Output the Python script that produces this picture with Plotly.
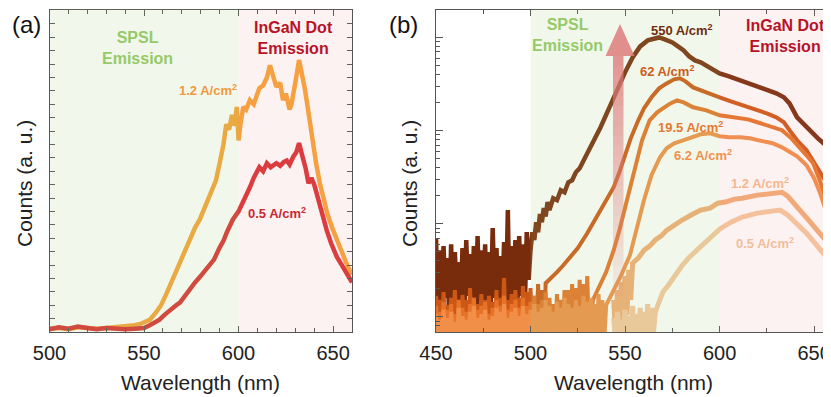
import plotly.graph_objects as go

# ---------------- Panel (a) data: linear counts (arbitrary units) ----------------
wl_a_12 = [500,505,510,515,520,525,530,535,540,545,548,550,553,556,559,562,565,568,571,574,
           577,579.5,582,585,588,590,592,593.5,595,596.5,598,599,600,601,602.5,604,606,608,609.5,611,
           613,615,616.6,618,620,622,623.5,625,627,628,629,630.5,632,633.6,635,636,637.5,639,641,643,
           645,647,650,652,654,656,658,660]
cnt_a_12 = [0.25,0.3,0.2,0.35,0.3,0.25,0.3,0.35,0.4,0.5,0.6,0.7,0.9,1.4,2.0,2.9,3.9,4.8,5.8,6.9,
            7.8,8.4,9.3,10.4,11.3,12.6,14.0,15.5,15.1,16.2,15.4,16.8,14.3,15.5,16.8,16.6,17.3,17.0,17.5,18.2,
            18.4,19.0,19.9,19.2,18.3,18.6,17.3,17.8,16.6,17.0,18.0,19.0,20.3,19.3,18.2,17.3,15.8,14.3,12.6,11.1,
            9.8,8.8,7.6,6.9,6.0,5.4,4.8,4.3]

wl_a_05 = [500,505,510,515,520,525,530,535,540,545,550,553,556,558,561,564,567,569,572,575,
           577,579.5,582,585,587,590,592,594,597,600,602,604,606,608,609.5,611,613,615,617,620,
           622,624,625.5,627,629,630.5,632,633,634,635.5,637,638.5,640,642,644,646.6,649,652,655,657,
           659,660]
cnt_a_05 = [0.2,0.35,0.25,0.4,0.3,0.2,0.3,0.25,0.2,0.25,0.3,0.5,0.7,0.9,1.3,1.7,2.0,2.2,2.8,3.4,
            3.7,4.1,4.5,5.1,5.4,6.3,6.8,7.5,8.4,9.0,9.6,10.1,10.8,11.5,11.9,12.3,12.0,12.6,12.3,12.6,
            12.4,12.7,12.8,12.5,13.1,13.4,14.1,13.4,13.0,12.2,11.1,11.5,11.0,10.0,8.9,7.6,6.6,5.6,4.9,4.4,
            3.9,3.7]

# ---------------- Panel (b) data: log counts ----------------
wl_b_550 = [450,451,452,453,454,455,456,457,458,459,460,461,462,463,464,465,466,467,468,469,
            470,471,472,473,474,475,476,477,478,479,480,481,482,483,484,485,486,487,488,489,
            490,491,492,493,494,495,496,497,498,499,
            500,501,502,503,504,505,506,507,508,509,510,512,514,516,518,520,522,524,526,528,
            530,533,537,541,546,550,554,558,562,565,568,571,575,578,581,584,587,590,593,596,
            600,605,611,615,620,625,630,634,637,641,645,648,652,655,659,660]
cnt_b_550 = [70,13.4,52,11.3,57.5,16,42.8,9.7,60,12.5,49.6,15.2,38.7,10.5,54.7,11.9,67,16.8,47.2,9.3,
             57.5,13.1,73.6,11.3,52,15.2,60,10.2,49.6,13.7,89.7,16,54.7,10.7,45,12.5,63.5,14.5,140,9.7,
             57.5,15.2,67,11.9,73.6,16.8,60,13.1,81.3,25,
             52,81,67,104,81,127,104,147,120,171,140,188,179,229,218,279,293,357,394,481,
             585,750,1080,1650,2700,4220,6110,8010,9290,9750,10000,9520,8840,8010,7260,6250,5670,5400,5010,4650,
             4110,3820,3460,3210,2910,2700,2510,2280,1960,1390,1140,1010,826,731,615,585]

wl_b_62 = [450,451,452,453,454,455,456,457,458,459,460,461,462,463,464,465,466,467,468,469,
           470,471,472,473,474,475,476,477,478,479,480,481,482,483,484,485,486,487,488,489,
           490,491,492,493,494,495,496,497,498,499,500,501,502,503,504,505,506,507,
           508,511,514,517,521,525,530,534,538,541,544,547,550,553,557,560,564,568,572,576,
           579,582,586,590,595,600,606,611,616,620,625,630,634,637,641,646,650,654,657,660]
cnt_b_62 = [16.8,7.2,15.2,5.9,18.5,6.6,13.4,5.6,16,6.9,19.4,7.2,14.5,5.9,17.2,6.6,15.2,5.6,20.4,6.9,
            16,7.2,13.7,5.9,17.6,6.6,15.2,5.6,16.8,6.9,14.5,7.2,19.4,5.9,16,6.6,26.1,5.6,15.2,6.9,
            17.6,7.2,19.4,5.9,16,6.6,21.4,5.6,18.5,6.9,20.4,7.2,16.8,5.9,22.5,6.6,19.4,5.6,
            23,26,30.3,35.2,43.8,54.7,79,109,151,193,247,357,543,826,1290,1730,2280,2840,3210,3550,
            3640,3380,2910,2700,2450,2280,2060,1910,1780,1650,1530,1390,1230,1010,787,615,447,332,266,218]

wl_b_195 = [450,451,452,453,454,455,456,457,458,459,460,461,462,463,464,465,466,467,468,469,
            470,471,472,473,474,475,476,477,478,479,480,481,482,483,484,485,486,487,488,489,
            490,491,492,493,494,495,496,497,498,499,500,501,502,503,504,505,506,507,508,509,
            510,511,512,513,514,515,516,517,518,519,520,521,522,523,524,525,526,527,528,529,
            530,531,
            533,537,540,544,547,551,555,559,563,567,570,574,577.5,581,586,593,600,605,610,615,
            620,627,633,638,642.6,646,649.5,653,656,659,660]
cnt_b_195 = [13.1,6.0,11.3,5.7,14.5,6.2,11.9,5.5,13.7,6.0,10.7,5.7,15.2,6.2,12.5,5.5,11.3,6.0,13.7,5.7,
             16,6.2,11.9,5.5,13.1,6.0,14.5,5.7,10.7,6.2,12.5,5.5,15.2,6.0,13.1,5.7,16.8,6.2,11.9,5.5,
             13.7,6.0,15.2,5.7,12.5,6.2,16,5.5,13.1,6.0,14.5,5.7,16.8,6.2,13.7,5.5,15.2,6.0,18.5,5.7,
             16,6.2,13.7,5.5,17.6,6.0,15.2,5.7,19.4,6.2,19.4,5.5,22.5,6.0,20.4,5.7,25,6.2,22.5,5.5,
             27.4,6.0,
             15.2,22,30.3,52,85,179,394,787,1290,1570,1730,1960,2110,2010,1780,1650,1460,1420,1390,1320,
             1230,1110,1010,826,662,543,447,293,188,124,109]

wl_b_62c = [450,451,452,453,454,455,456,457,458,459,460,461,462,463,464,465,466,467,468,469,
            470,471,472,473,474,475,476,477,478,479,480,481,482,483,484,485,486,487,488,489,
            490,491,492,493,494,495,496,497,498,499,500,501,502,503,504,505,506,507,508,509,
            510,511,512,513,514,515,516,517,518,519,520,521,522,523,524,525,526,527,528,529,
            530,531,532,533,534,535,536,537,538,539,
            540,544,548,552.6,556,560,564,568.5,572,576,580.7,586,590,595,600,605,611,616,620,625,
            628,633,637,641,646,650,653,656,659,660]
cnt_b_62c = [10.7,5.5,9.3,5.2,11.9,5.6,9.7,5.3,11.3,5.5,8.8,5.2,12.5,5.6,10.2,5.3,9.3,5.5,11.3,5.2,
             13.1,5.6,9.7,5.3,10.7,5.5,11.9,5.2,9.3,5.6,10.2,5.3,12.5,5.5,11.3,5.2,13.7,5.6,9.7,5.3,
             11.3,5.5,12.5,5.2,10.2,5.6,13.1,5.3,10.7,5.5,11.9,5.2,13.7,5.6,11.3,5.3,12.5,5.5,15.2,5.2,
             13.1,5.6,11.3,5.3,14.5,5.5,12.5,5.2,16,5.6,13.7,5.3,12.5,5.5,15.2,5.2,13.1,5.6,16.8,5.3,
             14.5,5.5,16,5.2,13.7,5.6,17.6,5.3,15.2,5.5,
             13.4,19.4,28.1,46,89.7,179,332,518,646,731,787,847,912,935,869,847,847,826,787,750,
             731,662,600,530,425,308,218,147,94.2,81.3]

wl_b_12 = [544,545,546,547,548,549,550,551,552,553,
           554,557,560,563,566,569,572,576,580,585,590,595,599,603,608,612,616,620,625,629,
           633,636,640,644,648,652,655,659,660]
cnt_b_12 = [15.2,6.3,19.4,7.2,23.7,8.2,27.4,10.5,32,15.2,
            37.8,42.8,52,57.5,67,73.6,85,96.6,109,124,140,147,166,171,184,188,198,203,208,213,
            218,198,162,130,104,83.4,70.2,56,53.4]

wl_b_05 = [544,545,546,547,548,549,550,551,552,553,554,555,556,557,558,559,560,561,562,563,564,565,
           566,568,570,573,576,580,584,590,595,600,606,612,620,626,632,636,640,646,650,655,659,660]
cnt_b_05 = [9.7,5.6,11.3,5.6,9.3,5.6,11.9,5.6,10.2,5.6,13.1,5.6,10.7,5.6,12.5,5.6,11.3,5.9,13.7,6.1,12.5,6.6,
            11.3,15.2,18.5,22,27.4,35.2,43.8,57.5,70.2,87.5,104,118,130,136,140,124,104,79,63.5,48.4,38.7,36]

W, H = 831, 397
OFF = 8  # page body margin offset of the rendered figure
FONT = "Liberation Sans, Arial, sans-serif"
AX = "#555555"


def px(x, y):
    return (x - OFF) / W, 1 - (y - OFF) / H


def fx(x):
    return (x - OFF) / W


def fy(y):
    return 1 - (y - OFF) / H


fig = go.Figure()

# panel (a) traces
fig.add_trace(go.Scatter(x=wl_a_12, y=cnt_a_12, mode="lines",
                         line=dict(color="rgb(246,163,55)", width=4.5), xaxis="x", yaxis="y"))
fig.add_trace(go.Scatter(x=wl_a_05, y=cnt_a_05, mode="lines",
                         line=dict(color="rgb(217,48,52)", width=4.5), xaxis="x", yaxis="y"))

# panel (b) traces
b_series = [
    (wl_b_550, cnt_b_550, "rgb(120,44,12)", 4.5),
    (wl_b_62, cnt_b_62, "rgb(205,88,22)", 4),
    (wl_b_195, cnt_b_195, "rgb(230,115,40)", 4),
    (wl_b_62c, cnt_b_62c, "rgb(241,143,72)", 4),
    (wl_b_12, cnt_b_12, "rgb(243,172,118)", 5),
    (wl_b_05, cnt_b_05, "rgb(246,200,158)", 5),
]
for xs, ys, col, w in b_series:
    fig.add_trace(go.Scatter(x=xs, y=ys, mode="lines", line=dict(color=col, width=w),
                             xaxis="x2", yaxis="y2"))

ydom = [fy(332), fy(9.5)]
tickfont = dict(family=FONT, size=20, color="#222")
common = dict(showline=True, linecolor=AX, linewidth=1, mirror="ticks", ticks="inside",
              tickcolor=AX, showgrid=False, zeroline=False, automargin=False)

fig.update_layout(
    width=W, height=H, margin=dict(l=0, r=0, t=0, b=0, autoexpand=False),
    paper_bgcolor="white", plot_bgcolor="rgba(0,0,0,0)", showlegend=False,
    xaxis=dict(domain=[fx(49.5), fx(352)], range=[500, 660], dtick=50, tick0=500, ticklen=6,
               tickfont=tickfont, anchor="y", ticklabelstandoff=3,
               minor=dict(dtick=10, tick0=500, ticks="inside", ticklen=4, tickcolor=AX), **common),
    yaxis=dict(domain=ydom, range=[0, 24.07], dtick=1, tick0=0, ticklen=5,
               showticklabels=False, anchor="x", **common),
    xaxis2=dict(domain=[fx(436), fx(833)], range=[450, 660], dtick=50, tick0=450, ticklen=6,
                tickfont=tickfont, anchor="y2", ticklabelstandoff=3,
                minor=dict(dtick=25, tick0=450, ticks="inside", ticklen=4, tickcolor=AX), **common),
    yaxis2=dict(domain=ydom, type="log", range=[0.838, 4.30], dtick=1, ticklen=7,
                showticklabels=False, anchor="x2",
                minor=dict(dtick="D1", ticks="inside", ticklen=4, tickcolor=AX), **common),
)

shapes = []
# shaded emission regions (semi-transparent, above traces)
green = "rgba(168,214,128,0.16)"
pink = "rgba(238,150,150,0.12)"
for xr, lo, mid, hi in [("x", 500, 600, 660), ("x2", 500, 600, 660)]:
    shapes.append(dict(type="rect", xref=xr, yref="paper", x0=lo, x1=mid, y0=ydom[0], y1=ydom[1],
                       fillcolor=green, line=dict(width=0), layer="above"))
    shapes.append(dict(type="rect", xref=xr, yref="paper", x0=mid, x1=hi, y0=ydom[0], y1=ydom[1],
                       fillcolor=pink, line=dict(width=0), layer="above"))

# gradient arrow in panel (b)
n = 24
top, bot = 56, 296
for i in range(n):
    y0 = top + (bot - top) * i / n
    y1 = top + (bot - top) * (i + 1) / n
    a = 0.78 - 0.70 * i / (n - 1)
    shapes.append(dict(type="rect", xref="paper", yref="paper",
                       x0=fx(613), x1=fx(623.5), y0=fy(y1), y1=fy(y0),
                       fillcolor=f"rgba(222,122,122,{a:.3f})", line=dict(width=0), layer="above"))
tx, ty = px(620, 24)
lx, ly = px(605.5, 56)
rx, ry = px(634.5, 56)
shapes.append(dict(type="path", xref="paper", yref="paper",
                   path=f"M {lx},{ly} L {tx},{ty} L {rx},{ry} Z",
                   fillcolor="rgba(222,125,125,0.85)", line=dict(width=0), layer="above"))
fig.update_layout(shapes=shapes)

ann = []


def text(x, y, s, size, color, bold=True, angle=0):
    xx, yy = px(x, y)
    ann.append(dict(x=xx, y=yy, xref="paper", yref="paper", text=f"<b>{s}</b>" if bold else s,
                    showarrow=False, xanchor="center", yanchor="middle", textangle=angle,
                    font=dict(family=FONT, size=size, color=color)))


GREEN = "rgb(150,202,104)"
RED = "rgb(184,18,40)"
# panel (a)
text(26, 24, "(a)", 24, "#111", bold=False)
text(137, 47.5, "SPSL<br>Emission", 16, GREEN)
text(293, 38, "InGaN Dot<br>Emission", 16, RED)
text(208, 90, "1.2 A/cm<sup>2</sup>", 13, "rgb(240,152,60)")
text(277, 213, "0.5 A/cm<sup>2</sup>", 13, "rgb(200,40,52)")
text(24, 184, "Counts (a. u.)", 21, "#222", bold=False, angle=-90)
text(200.7, 382, "Wavelength (nm)", 21, "#222", bold=False)
# panel (b)
text(403, 24, "(b)", 24, "#111", bold=False)
text(567, 35, "SPSL<br>Emission", 16, GREEN)
text(785, 36, "InGaN Dot<br>Emission", 16, RED)
text(682, 30, "550 A/cm<sup>2</sup>", 13, "rgb(112,44,14)")
text(667, 71, "62 A/cm<sup>2</sup>", 13, "rgb(205,92,32)")
text(690, 127, "19.5 A/cm<sup>2</sup>", 13, "rgb(230,120,50)")
text(703, 155, "6.2 A/cm<sup>2</sup>", 13, "rgb(240,145,80)")
text(760, 183, "1.2 A/cm<sup>2</sup>", 13, "rgb(244,184,140)")
text(765, 243, "0.5 A/cm<sup>2</sup>", 13, "rgb(240,190,155)")
text(409, 184, "Counts (a. u.)", 21, "#222", bold=False, angle=-90)
text(633.5, 382, "Wavelength (nm)", 21, "#222", bold=False)
fig.update_layout(annotations=ann)

fig.write_html("out.html")
